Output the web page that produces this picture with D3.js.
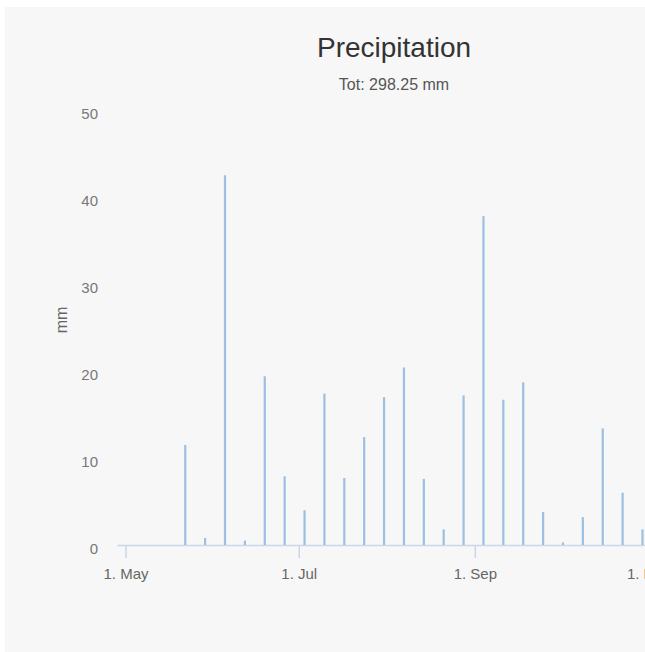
<!DOCTYPE html>
<html>
<head>
<meta charset="utf-8">
<script src="https://cdn.jsdelivr.net/npm/d3@7"></script>
<style>
  html, body { margin: 0; padding: 0; background: #ffffff; }
  svg { display: block; }
</style>
</head>
<body>
<script>
// ---- data ----
const titleText = "Precipitation";
const subtitleText = "Tot: 298.25 mm";
const yAxisTitle = "mm";
const dates = ["2013-05-22","2013-05-29","2013-06-05","2013-06-12","2013-06-19","2013-06-26",
  "2013-07-03","2013-07-10","2013-07-17","2013-07-24","2013-07-31","2013-08-07","2013-08-14",
  "2013-08-21","2013-08-28","2013-09-04","2013-09-11","2013-09-18","2013-09-25","2013-10-02",
  "2013-10-09","2013-10-16","2013-10-23","2013-10-30"];
const precip = [11.5, 0.8, 42.5, 0.5, 19.4, 7.9, 4.0, 17.4, 7.7, 12.4, 17.0, 20.4, 7.6,
  1.8, 17.2, 37.8, 16.7, 18.7, 3.8, 0.3, 3.2, 13.4, 6.0, 1.8];
const xTickDates = ["2013-05-01","2013-07-01","2013-09-01","2013-11-01"];
const xTickLabels = ["1. May","1. Jul","1. Sep","1. Nov"];
const yTicks = [0, 10, 20, 30, 40, 50];

// ---- layout ----
const W = 645, H = 652;
const parse = d3.utcParse("%Y-%m-%d");
const svg = d3.select("body").append("svg").attr("width", W).attr("height", H);
svg.append("rect").attr("x", 5).attr("y", 7).attr("width", W).attr("height", H)
  .attr("fill", "#f7f7f7");

const plotLeft = 117, plotBottom = 545, plotTop = 110;
const pxPerDay = 2.84;
const d0 = parse("2013-04-28"), d1 = parse("2013-11-10");
const days = (d1 - d0) / 864e5;
const x = d3.scaleUtc().domain([d0, d1]).range([plotLeft, plotLeft + days * pxPerDay]);
const y = d3.scaleLinear().domain([0, 50]).range([plotBottom, plotTop]);

const font = "'Liberation Sans', Arial, sans-serif";

// title
svg.append("text").attr("x", 394).attr("y", 57).attr("text-anchor", "middle")
  .attr("font-family", font).attr("font-size", 28).attr("fill", "#333333").text(titleText);
svg.append("text").attr("x", 394).attr("y", 90).attr("text-anchor", "middle")
  .attr("font-family", font).attr("font-size", 16).attr("fill", "#555555").text(subtitleText);

// y axis (labels only)
const yAxis = d3.axisLeft(y).tickValues(yTicks).tickSize(0).tickPadding(0);
const gy = svg.append("g").attr("transform", "translate(98,4)").call(yAxis);
gy.select(".domain").remove();
gy.selectAll("text").attr("font-family", font).attr("font-size", 15).attr("fill", "#777777");

svg.append("text").attr("transform", "translate(67,320) rotate(-90)")
  .attr("text-anchor", "middle").attr("font-family", font).attr("font-size", 16)
  .attr("fill", "#666666").text(yAxisTitle);

// x axis
const xAxis = d3.axisBottom(x).tickValues(xTickDates.map(parse))
  .tickFormat((d, i) => xTickLabels[i]).tickSize(13).tickPadding(10).tickSizeOuter(0);
const gx = svg.append("g").attr("transform", `translate(0,${plotBottom})`).call(xAxis);
gx.select(".domain").attr("stroke", "#ccd6eb").attr("stroke-width", 1.5);
gx.selectAll(".tick line").attr("stroke", "#ccd6eb").attr("stroke-width", 1.5);
gx.selectAll("text").attr("font-family", font).attr("font-size", 15).attr("fill", "#666666");

// bars
svg.append("g").selectAll("rect").data(precip).join("rect")
  .attr("x", (d, i) => x(parse(dates[i])) - 1)
  .attr("width", 2.2)
  .attr("y", d => y(d))
  .attr("height", d => plotBottom - y(d))
  .attr("fill", "#9cbfe2");
</script>
</body>
</html>
